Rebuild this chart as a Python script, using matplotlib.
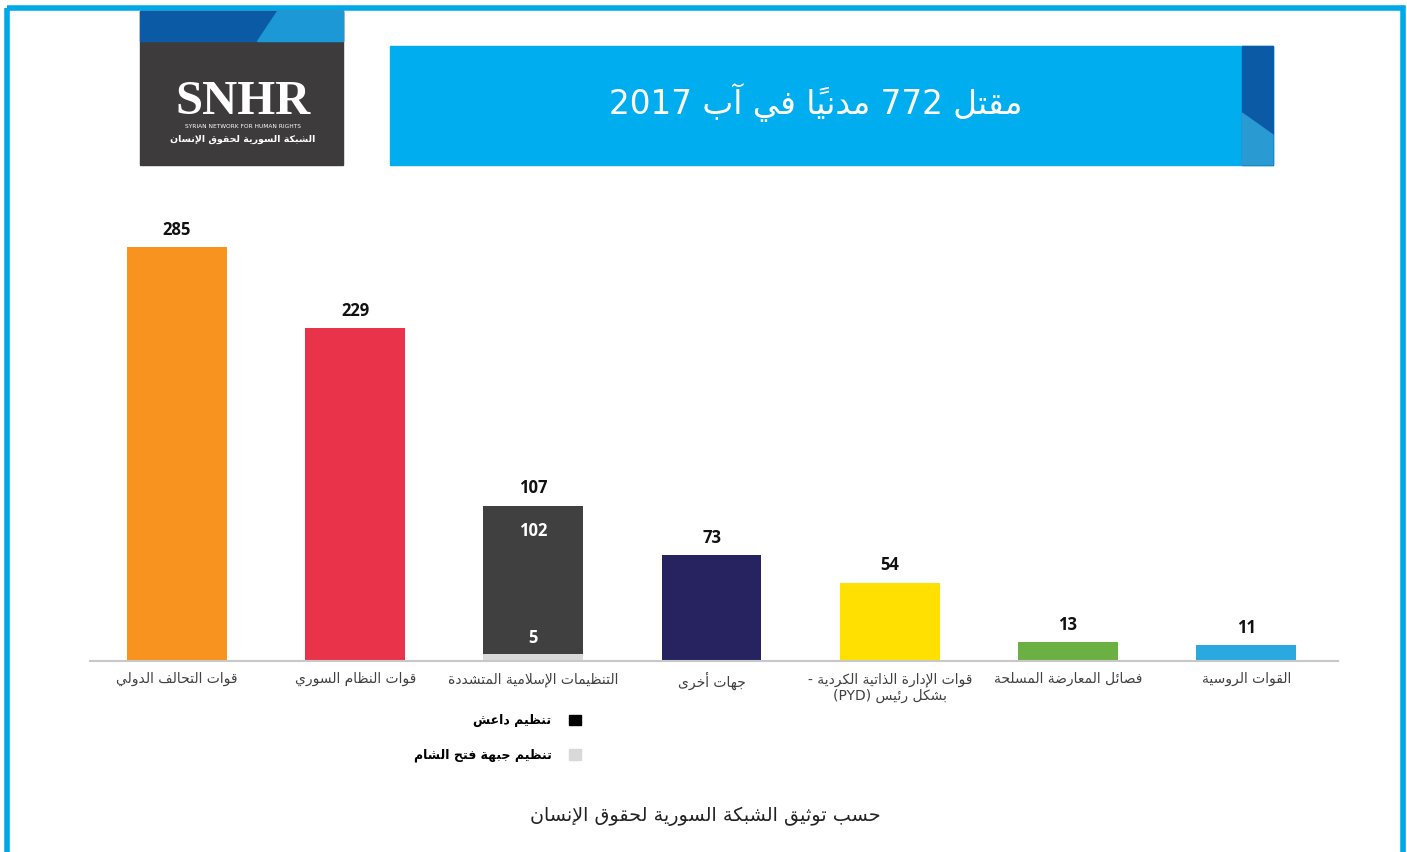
import numpy as np
import matplotlib
matplotlib.use("Agg")
import matplotlib.pyplot as plt
from matplotlib.patches import Rectangle, Polygon, Patch

# ---- data ----
categories = [
    "قوات التحالف الدولي",
    "قوات النظام السوري",
    "التنظيمات الإسلامية المتشددة",
    "جهات أخرى",
    "قوات الإدارة الذاتية الكردية -\nبشكل رئيس (PYD)",
    "فصائل المعارضة المسلحة",
    "القوات الروسية",
]
main_values = [285, 229, 102, 73, 54, 13, 11]
fateh_sham = [0, 0, 5, 0, 0, 0, 0]
bar_colors = ["#f7931e", "#e9334b", "#404040", "#272361", "#ffe000", "#6bb042", "#2aa9e0"]
legend_labels = ["تنظيم داعش", "تنظيم جبهة فتح الشام"]
title = "مقتل 772 مدنياً في آب 2017"
footer = "حسب توثيق الشبكة السورية لحقوق الإنسان"
logo_ar = "الشبكة السورية لحقوق الإنسان"

# ---- minimal arabic shaping (matplotlib has no complex text layout) ----
FORMS = {
    "ء": (0xFE80, 1), "آ": (0xFE81, 2), "أ": (0xFE83, 2), "ؤ": (0xFE85, 2),
    "إ": (0xFE87, 2), "ئ": (0xFE89, 4), "ا": (0xFE8D, 2), "ب": (0xFE8F, 4),
    "ة": (0xFE93, 2), "ت": (0xFE95, 4), "ث": (0xFE99, 4), "ج": (0xFE9D, 4),
    "ح": (0xFEA1, 4), "خ": (0xFEA5, 4), "د": (0xFEA9, 2), "ذ": (0xFEAB, 2),
    "ر": (0xFEAD, 2), "ز": (0xFEAF, 2), "س": (0xFEB1, 4), "ش": (0xFEB5, 4),
    "ص": (0xFEB9, 4), "ض": (0xFEBD, 4), "ط": (0xFEC1, 4), "ظ": (0xFEC5, 4),
    "ع": (0xFEC9, 4), "غ": (0xFECD, 4), "ف": (0xFED1, 4), "ق": (0xFED5, 4),
    "ك": (0xFED9, 4), "ل": (0xFEDD, 4), "م": (0xFEE1, 4), "ن": (0xFEE5, 4),
    "ه": (0xFEE9, 4), "و": (0xFEED, 2), "ى": (0xFEEF, 2), "ي": (0xFEF1, 4),
}
LAM_ALEF = {"آ": 0xFEF5, "أ": 0xFEF7, "إ": 0xFEF9, "ا": 0xFEFB}


def rtl(text):
    out = []
    for line in text.split("\n"):
        units = []
        i = 0
        while i < len(line):
            ch = line[i]
            if ch == "ل" and i + 1 < len(line) and line[i + 1] in LAM_ALEF:
                units.append(["LA" + line[i + 1], ""])
                i += 2
            elif "\u064b" <= ch <= "\u0652" and units:
                units[-1][1] += ch
                i += 1
            else:
                units.append([ch, ""])
                i += 1

        def joins(u):
            return u[0] in FORMS or u[0].startswith("LA")

        def dual(u):
            return u[0] in FORMS and FORMS[u[0]][1] == 4

        clusters = []
        for k, (ch, marks) in enumerate(units):
            prev = k > 0 and dual(units[k - 1]) and joins(units[k])
            nxt = dual(units[k]) and k + 1 < len(units) and joins(units[k + 1])
            if ch.startswith("LA"):
                g = chr(LAM_ALEF[ch[2]] + int(prev))
            elif ch in FORMS:
                base, n = FORMS[ch]
                if n == 4:
                    g = chr(base + int(prev) + 2 * int(nxt))
                elif n == 2:
                    g = chr(base + int(prev))
                else:
                    g = chr(base)
            else:
                g = ch
            ltr = ch.isascii() and (ch.isalnum() or ch in "()")
            clusters.append((g + marks, ltr))

        runs = []
        for c, ltr in clusters:
            if runs and runs[-1][1] == ltr:
                runs[-1][0].append(c)
            else:
                runs.append([[c], ltr])
        s = ""
        for cs, ltr in reversed(runs):
            s += "".join(cs if ltr else reversed(cs))
        out.append(s)
    return "\n".join(out)


W, H = 1407, 852
fig = plt.figure(figsize=(W / 100, H / 100), dpi=100)
fig.patch.set_facecolor("white")

# overlay in pixel coordinates for the decorations
deco = fig.add_axes([0, 0, 1, 1])
deco.set_xlim(0, W)
deco.set_ylim(H, 0)
deco.axis("off")

deco.add_patch(Rectangle((6.5, 8), W - 11, H, fill=False, edgecolor="#00a8e8", linewidth=4))

# logo
deco.add_patch(Rectangle((140, 11), 203, 154, color="#3d3b3c"))
deco.add_patch(Rectangle((140, 11), 203, 30, color="#0b5aa6"))
deco.add_patch(Polygon([(277, 11), (343, 11), (343, 41), (257, 41)], color="#1b98d5"))
deco.text(243, 114, "SNHR", color="white", fontsize=35, family="Liberation Serif",
          fontweight="bold", ha="center", va="baseline")
deco.text(243, 127, "SYRIAN NETWORK FOR HUMAN RIGHTS", color="white", fontsize=4.2,
          ha="center", va="center")
deco.text(243, 139, rtl(logo_ar), color="white", fontsize=6.8, fontweight="bold",
          family="DejaVu Sans", ha="center", va="center")

# title banner
deco.add_patch(Rectangle((390, 46), 883, 119, color="#00aeef"))
deco.add_patch(Rectangle((1242, 46), 31, 119, color="#0b5aa6"))
deco.add_patch(Polygon([(1242, 113), (1273, 135), (1273, 165), (1242, 165)], color="#2a9ad2"))
deco.text(816, 103, rtl(title), color="white", fontsize=23.6, family="DejaVu Sans",
          ha="center", va="center")

deco.text(705, 816, rtl(footer), color="#222222", fontsize=13.8, family="DejaVu Sans",
          ha="center", va="center")

# ---- bars ----
px = 1.4526  # pixels per unit
ax = fig.add_axes([90 / W, (H - 661) / H, 1248 / W, 300 * px / H])
x = np.arange(len(categories))
ax.bar(x, main_values, bottom=fateh_sham, width=0.56, color=bar_colors, zorder=2)
ax.bar(x, fateh_sham, width=0.56, color="#d9d9d9", zorder=2)
ax.set_xlim(-0.488, 6.515)
ax.set_ylim(0, 300)
ax.patch.set_alpha(0)
for s in ["top", "left", "right"]:
    ax.spines[s].set_visible(False)
ax.spines["bottom"].set_color("#c8c8c8")
ax.spines["bottom"].set_linewidth(1.5)
ax.set_yticks([])
ax.set_xticks(x, [rtl(c) for c in categories], fontsize=10, color="#404040",
              family="DejaVu Sans")
ax.tick_params(axis="x", length=0, pad=8)

totals = [m + f for m, f in zip(main_values, fateh_sham)]
for i, t in enumerate(totals):
    ax.annotate(str(t), (i, t), xytext=(0, 6), textcoords="offset points",
                ha="center", va="bottom", fontsize=12, fontweight="bold",
                family="Open Sans", color="#111111")
    if fateh_sham[i]:
        ax.annotate(str(main_values[i]), (i, t), xytext=(0, -18), textcoords="offset points",
                    ha="center", va="center", fontsize=12, fontweight="bold",
                    family="Open Sans", color="white")
        ax.annotate(str(fateh_sham[i]), (i, fateh_sham[i]), xytext=(0, 11.5),
                    textcoords="offset points", ha="center", va="center", fontsize=12,
                    fontweight="bold", family="Open Sans", color="white")

handles = [Patch(color="black"), Patch(color="#d9d9d9")]
leg = fig.legend(handles, [rtl(l) for l in legend_labels], loc="upper right",
                 bbox_to_anchor=(587 / W, 1 - 708 / H), frameon=False, markerfirst=False,
                 borderpad=0, handlelength=0.95, handleheight=0.95, handletextpad=1.4,
                 labelspacing=1.7, prop={"family": "DejaVu Sans", "weight": "bold", "size": 9})

fig.savefig("out.png", dpi=100)
